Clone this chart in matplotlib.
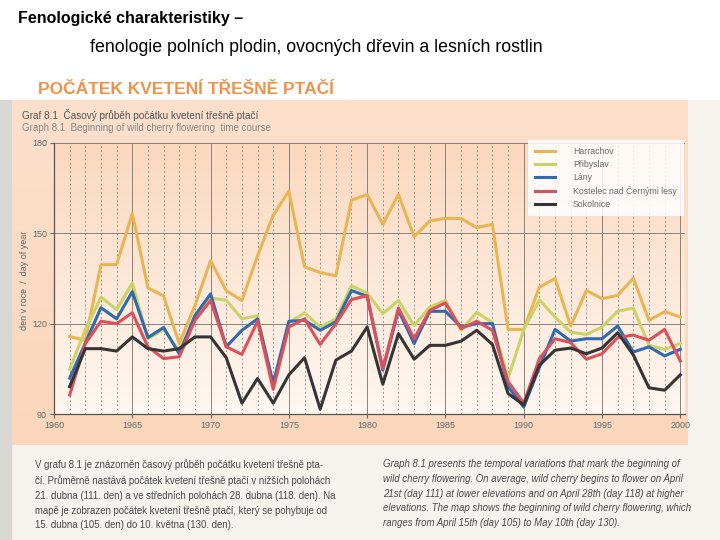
import numpy as np
import matplotlib.pyplot as plt
from matplotlib.patches import Rectangle

plt.rcParams['font.family'] = ['Liberation Sans', 'DejaVu Sans']

# data (day of year)
years = list(range(1961, 2001))
harrachov = [115.7, 114.5, 139.6, 139.6, 156.6, 131.9, 129.2, 113.4, 126.0, 140.9,
             131.0, 127.7, 142.5, 156.0, 164.0, 138.9, 137.0, 135.9, 161.0, 162.9,
             153.0, 162.9, 148.9, 154.1, 155.0, 154.9, 151.9, 153.0, 118.1, 118.1,
             132.1, 135.0, 119.2, 131.0, 128.3, 129.4, 135.1, 121.1, 124.0, 122.2]
pribyslav = [104.9, 118.0, 128.8, 124.7, 133.5, 115.0, 118.0, 111.0, 122.0, 128.5,
             127.8, 121.6, 122.7, 99.3, 120.3, 123.6, 118.9, 121.6, 132.6, 130.2,
             123.3, 127.7, 119.4, 125.5, 127.7, 117.8, 123.8, 120.3, 101.8, 118.0,
             127.9, 122.2, 117.2, 116.4, 118.9, 124.1, 125.2, 112.8, 111.5, 113.4]
lany = [101.9, 113.5, 125.3, 121.6, 130.6, 115.4, 118.7, 110.0, 122.7, 129.9,
        112.3, 117.8, 121.6, 100.2, 120.8, 121.1, 117.8, 120.6, 131.0, 129.1,
        104.6, 124.4, 113.4, 124.1, 124.1, 118.9, 120.0, 120.0, 99.1, 92.3,
        105.5, 118.1, 114.2, 115.0, 115.0, 119.2, 110.6, 112.3, 109.3, 111.5]
kostelec = [96.3, 113.4, 120.8, 120.0, 123.6, 112.3, 108.4, 109.0, 121.1, 127.7,
            112.3, 109.8, 120.8, 98.2, 118.9, 121.6, 113.1, 120.0, 128.0, 129.3,
            105.1, 125.2, 115.0, 124.4, 126.9, 118.3, 120.8, 117.8, 100.8, 93.6,
            108.4, 115.0, 113.7, 108.2, 110.0, 115.4, 116.2, 114.5, 118.1, 107.6]
sokolnice = [99.1, 111.7, 111.7, 110.9, 115.6, 111.7, 110.9, 111.7, 115.6, 115.6,
             108.7, 93.6, 101.8, 93.6, 103.0, 108.7, 91.6, 107.9, 110.9, 118.9,
             99.9, 116.7, 108.2, 112.8, 112.8, 114.2, 117.8, 113.1, 96.8, 93.0,
             106.2, 111.2, 111.9, 110.0, 111.9, 117.0, 109.6, 98.7, 97.9, 103.0]

series = [
    ("Harrachov", harrachov, "#E9B553"),
    ("Přibyslav", pribyslav, "#C9D366"),
    ("Lány", lany, "#2F6BAE"),
    ("Kostelec nad Černými lesy", kostelec, "#DE4F5C"),
    ("Sokolnice", sokolnice, "#353535"),
]

W, H = 720, 540
fig = plt.figure(figsize=(7.2, 5.4), dpi=100, facecolor="white")

# background "page" drawn in pixel coordinates
bg = fig.add_axes([0, 0, 1, 1])
bg.set_xlim(0, W)
bg.set_ylim(H, 0)
bg.axis("off")

bg.add_patch(Rectangle((10, 100), 710, 440, color="#F6F3EF", zorder=0))
bg.add_patch(Rectangle((0, 100), 11, 440, color="#D9D7D4", zorder=0))
# peach box with a soft vertical gradient
grad = np.linspace(0, 1, 256).reshape(-1, 1)
top = np.array([252, 224, 204]) / 255
bot = np.array([250, 214, 188]) / 255
img = top + (bot - top) * grad[..., None]
bg.imshow(img, extent=(12, 688, 445, 100), aspect="auto", zorder=1)

bg.text(18, 18, "Fenologické charakteristiky –", fontsize=11.5, fontweight="bold",
        va="center", ha="left")
bg.text(90, 48, "fenologie polních plodin, ovocných dřevin a lesních rostlin",
        fontsize=12.8, va="center", ha="left")
bg.text(38, 89, "POČÁTEK KVETENÍ TŘEŠNĚ PTAČÍ", fontsize=12.5, fontweight="bold",
        color="#F0924A", va="center", ha="left")
bg.text(22, 115, "Graf 8.1  Časový průběh počátku kvetení třešně ptačí", fontsize=7.2,
        color="#555555", va="center", ha="left")
bg.text(22, 128, "Graph 8.1  Beginning of wild cherry flowering  time course", fontsize=7,
        color="#8a8a8a", va="center", ha="left")
bg.text(25, 280, "den v roce  /  day of year", fontsize=6.5, color="#6a6a6a",
        rotation=90, va="center", ha="center")

left_txt = ("V grafu 8.1 je znázorněn časový průběh počátku kvetení třešně pta-\n"
            "čí. Průměrně nastává počátek kvetení třešně ptačí v nižších polohách\n"
            "21. dubna (111. den) a ve středních polohách 28. dubna (118. den). Na\n"
            "mapě je zobrazen počátek kvetení třešně ptačí, který se pohybuje od\n"
            "15. dubna (105. den) do 10. května (130. den).")
right_txt = ("Graph 8.1 presents the temporal variations that mark the beginning of\n"
             "wild cherry flowering. On average, wild cherry begins to flower on April\n"
             "21st (day 111) at lower elevations and on April 28th (day 118) at higher\n"
             "elevations. The map shows the beginning of wild cherry flowering, which\n"
             "ranges from April 15th (day 105) to May 10th (day 130).")
bg.text(35, 459, left_txt, fontsize=6.9, color="#4a4a4a", va="top", ha="left",
        linespacing=1.6)
bg.text(383, 459, right_txt, fontsize=6.9, color="#4a4a4a", va="top", ha="left",
        style="italic", linespacing=1.6)

# chart
x0, x1, y0, y1 = 54, 685, 143, 414
ax = fig.add_axes([x0 / W, 1 - y1 / H, (x1 - x0) / W, (y1 - y0) / H])
ax.set_xlim(1960, 2000.3)
ax.set_ylim(90, 180)

ptop = np.array([251, 216, 190]) / 255
pbot = np.array([255, 247, 241]) / 255
pimg = ptop + (pbot - ptop) * grad[..., None]
ax.imshow(pimg, extent=(1960, 2000.3, 90, 180), aspect="auto", origin="upper", zorder=0)

for yr in range(1961, 2001):
    if yr % 5:
        ax.axvline(yr, color="#8c8078", lw=0.6, ls=(0, (2, 3)), zorder=1)
    else:
        ax.axvline(yr, color="#8c8078", lw=0.7, zorder=1)
for v in (120, 150, 180):
    ax.axhline(v, color="#8c8078", lw=0.7, zorder=1)

for name, vals, col in series:
    ax.plot(years, vals, color=col, lw=2.2, label=name, zorder=3)

ax.set_xticks(range(1960, 2001, 5))
ax.set_yticks([90, 120, 150, 180])
ax.tick_params(labelsize=6.5, colors="#6a6a6a", length=3, width=0.8, pad=2)
for s in ("top", "right"):
    ax.spines[s].set_visible(False)
for s in ("left", "bottom"):
    ax.spines[s].set_color("#555555")
    ax.spines[s].set_linewidth(0.9)

leg = ax.legend(loc="upper right", bbox_to_anchor=(0.998, 1.01), fontsize=6.3,
                frameon=True, fancybox=False, handlelength=2.3, handletextpad=2.0,
                labelspacing=0.45, borderpad=0.8, borderaxespad=0.0)
leg.get_frame().set_facecolor("white")
leg.get_frame().set_alpha(0.85)
leg.get_frame().set_edgecolor("none")
for t in leg.get_texts():
    t.set_color("#6a6a6a")

fig.savefig("out.png", dpi=100, facecolor="white")
